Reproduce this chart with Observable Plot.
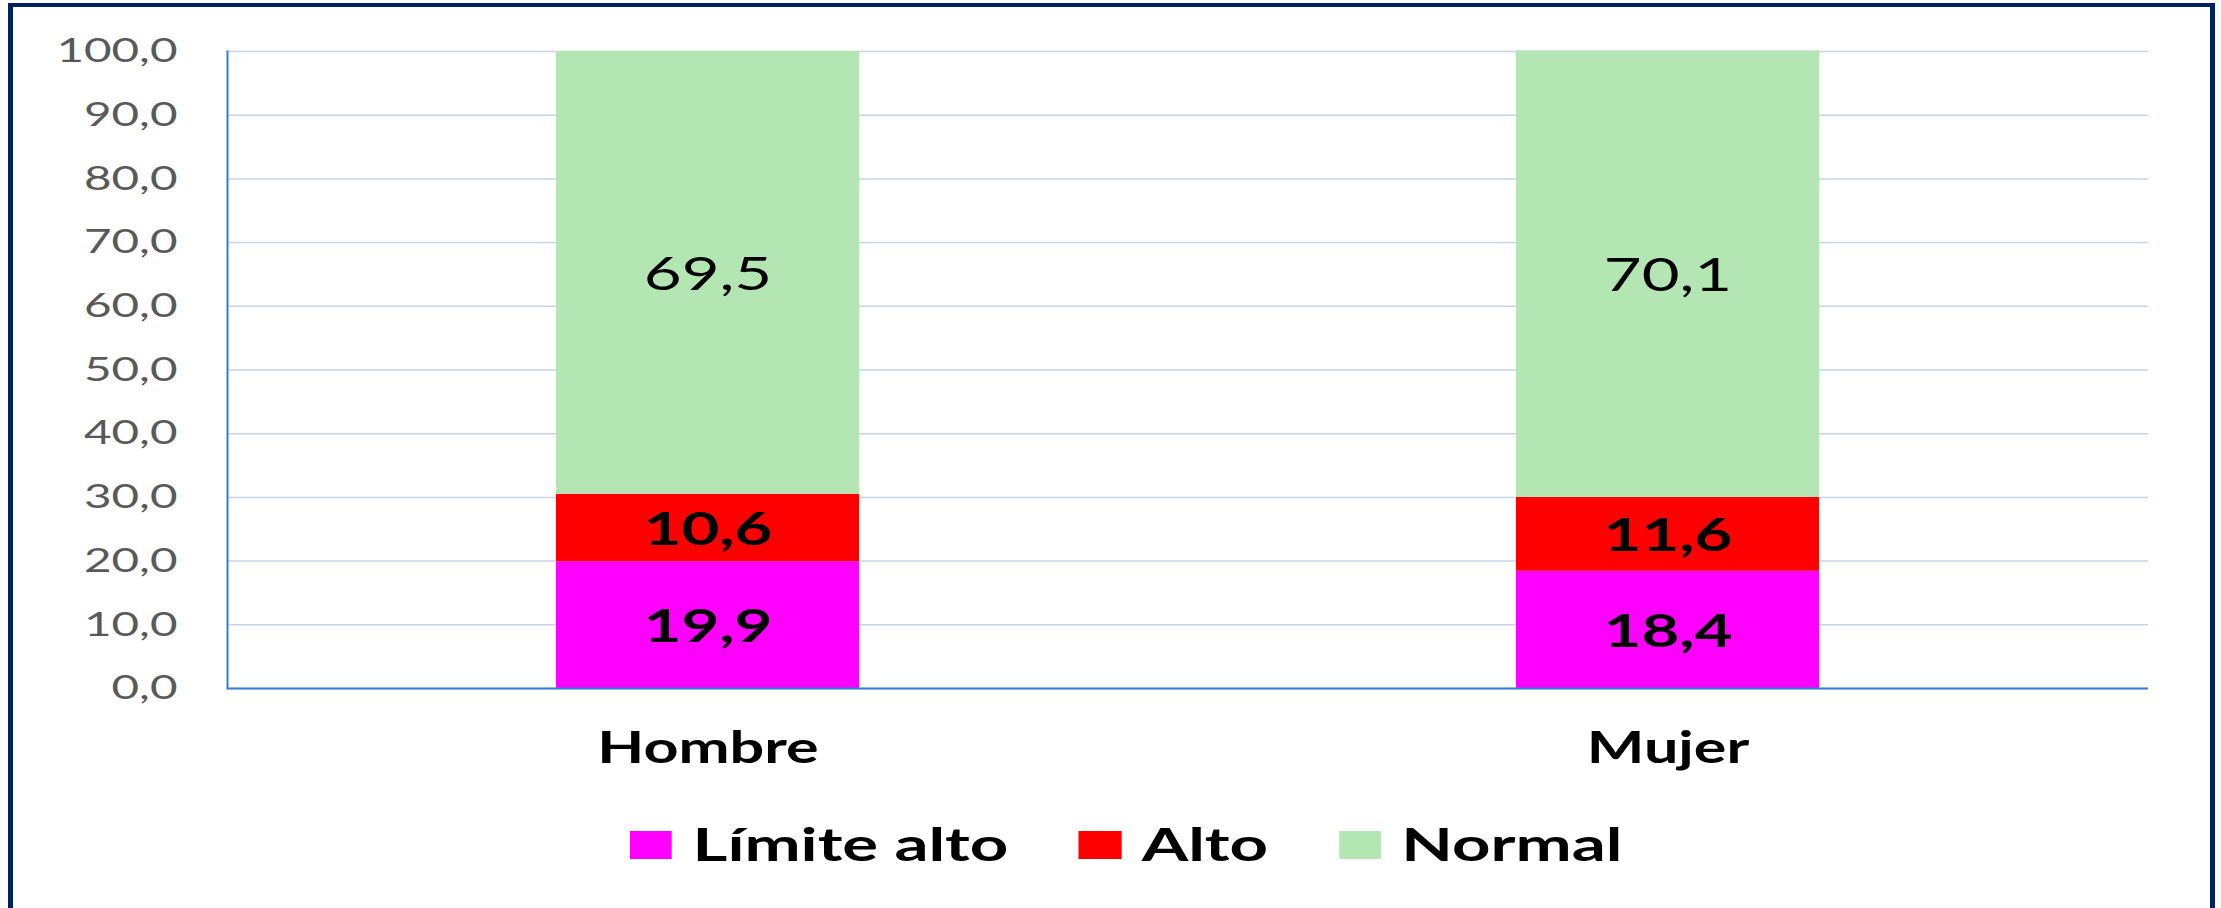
<!DOCTYPE html>
<html><head><meta charset="utf-8">
<script src="https://cdn.jsdelivr.net/npm/d3@7"></script>
<script src="https://cdn.jsdelivr.net/npm/@observablehq/plot@0.6"></script>
<style>
html,body{margin:0;padding:0;background:#fff;overflow:hidden;width:2221px;height:908px;}
#frame{position:absolute;left:8px;top:3px;width:2197px;height:1000px;border:5px solid #002060;border-top-width:4px;border-bottom:none;box-sizing:content-box;}
#chart{position:absolute;left:0;top:0;}
#legend{position:absolute;left:630px;top:822px;display:flex;align-items:center;transform:scaleX(1.49);transform-origin:0 50%;font-family:Lato,sans-serif;font-weight:bold;font-size:45px;line-height:1;color:#000;white-space:nowrap;}
#legend .sw{display:inline-block;width:28.2px;height:28px;margin-right:13.8px;}
#legend .it{display:flex;align-items:center;margin-right:47.5px;}
</style>
</head><body>
<div id="frame"></div>
<div id="chart"></div>
<div id="legend"></div>
<script>
const categories = ["Hombre", "Mujer"];
const series = ["Límite alto", "Alto", "Normal"];
const limiteAlto = [19.9, 18.4];
const alto = [10.6, 11.6];
const normal = [69.5, 70.1];
const yTicks = [0, 10, 20, 30, 40, 50, 60, 70, 80, 90, 100];
const colors = ["#ff00ff", "#ff0000", "#b4e6b4"];

const seriesValues = [limiteAlto, alto, normal];
const rows = [];
series.forEach((s, i) => categories.forEach((c, j) => rows.push({cat: c, series: s, value: seriesValues[i][j]})));
const fmt = d => d.toFixed(1).replace(".", ",");

const chart = Plot.plot({
  width: 2221, height: 790,
  marginLeft: 227, marginRight: 73, marginTop: 51, marginBottom: 102,
  style: {fontFamily: "Lato, sans-serif", background: "transparent"},
  x: {domain: categories, paddingInner: 0.684, paddingOuter: 0.342, label: null},
  y: {domain: [0, 100], label: null},
  color: {domain: series, range: colors},
  marks: [
    Plot.gridY(yTicks, {stroke: "#c5d4ec", strokeOpacity: 1, strokeWidth: 1.5}),
    Plot.barY(rows, {x: "cat", y: "value", fill: "series"}),
    Plot.text(rows, Plot.stackY({x: "cat", y: "value", z: "series", text: d => d.series === "Normal" ? fmt(d.value) : "", fontSize: 46, fill: "black", dy: 2})),
    Plot.text(rows, Plot.stackY({x: "cat", y: "value", z: "series", text: d => d.series !== "Normal" ? fmt(d.value) : "", fontSize: 46, fontWeight: "bold", fill: "black", dy: 2})),
    Plot.ruleY([0], {stroke: "#2e7fd6", strokeWidth: 2}),
    Plot.frame({anchor: "left", stroke: "#2e7fd6", strokeWidth: 2}),
    Plot.axisY(yTicks, {tickSize: 0, tickPadding: 50, tickFormat: fmt, fontSize: 33.5, fill: "#595959"}),
    Plot.axisX({tickSize: 0, tickPadding: 44, fontSize: 43, fontWeight: "bold", fill: "black"})
  ]
});
document.getElementById("chart").appendChild(chart);

// horizontal stretch of text to match the reference's wide lettering
const S = 1.42;
chart.querySelectorAll("text").forEach(t => {
  const x = +t.getAttribute("x") || 0;
  const y = +t.getAttribute("y") || 0;
  const tr = t.getAttribute("transform") || "";
  t.setAttribute("transform", `${tr} translate(${x},${y}) scale(${S},1) translate(${-x},${-y})`);
});

const legend = document.getElementById("legend");
series.forEach((s, i) => {
  const it = document.createElement("div");
  it.className = "it";
  const sw = document.createElement("span");
  sw.className = "sw";
  sw.style.background = colors[i];
  const lb = document.createElement("span");
  lb.textContent = s;
  it.appendChild(sw); it.appendChild(lb);
  legend.appendChild(it);
});
</script>
</body></html>
